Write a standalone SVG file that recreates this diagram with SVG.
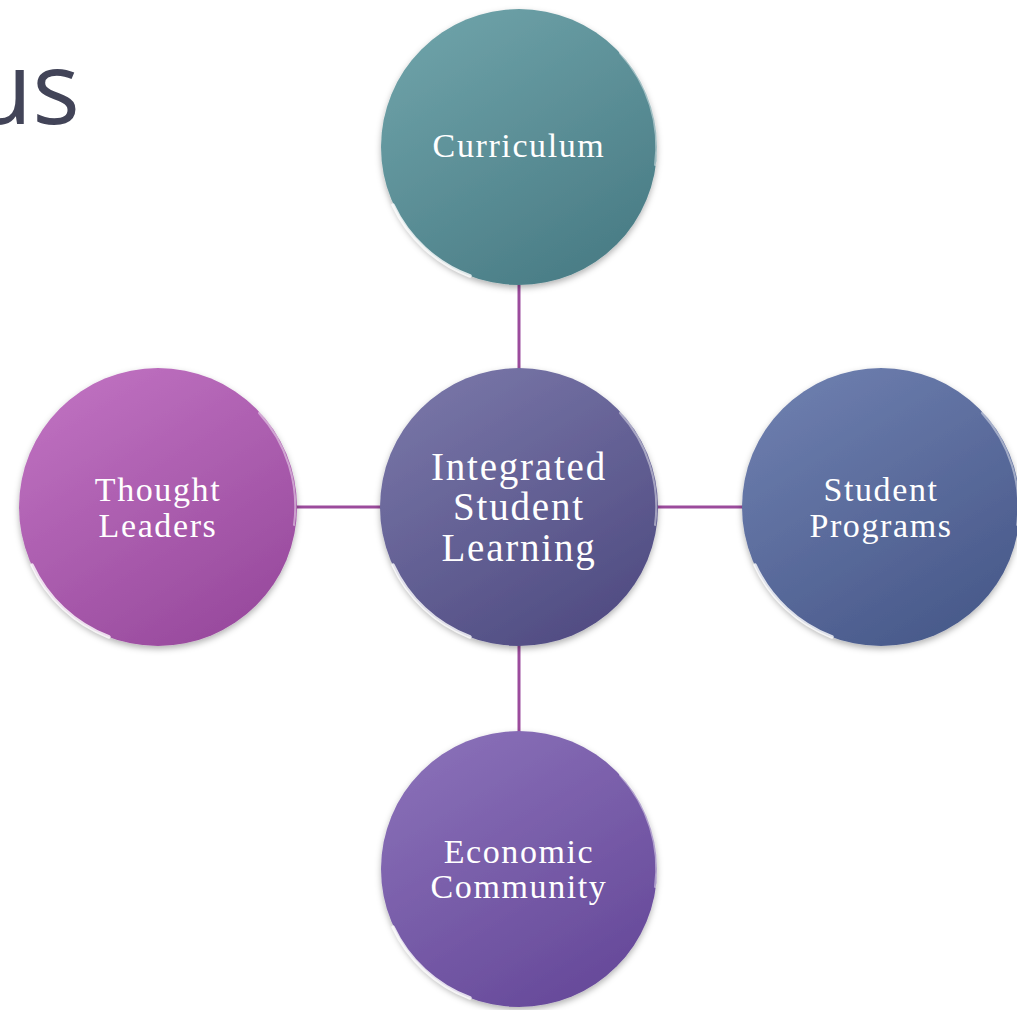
<svg xmlns="http://www.w3.org/2000/svg" width="1017" height="1010" viewBox="0 0 1017 1010">
<style>
.lbl{font-family:"Liberation Serif","DejaVu Serif",serif;fill:#ffffff;text-anchor:middle;font-size:34px;letter-spacing:1.6px}
.big{font-size:39px;letter-spacing:1.8px}
.conn{stroke:#9b4b9c;stroke-width:3;fill:none}
.rim{fill:none;stroke:#ffffff;stroke-opacity:0.8;stroke-width:3.5;stroke-linecap:round}
.rimr{fill:none;stroke:#ffffff;stroke-opacity:0.45;stroke-width:2;stroke-linecap:round}
</style>
<defs>
<linearGradient id="gTeal" x1="0" y1="0" x2="0.6" y2="1"><stop offset="0" stop-color="#72a6ac"/><stop offset="1" stop-color="#4b7e87"/></linearGradient>
<linearGradient id="gCenter" x1="0" y1="0" x2="0.6" y2="1"><stop offset="0" stop-color="#7c7aab"/><stop offset="1" stop-color="#524e84"/></linearGradient>
<linearGradient id="gBlue" x1="0" y1="0" x2="0.6" y2="1"><stop offset="0" stop-color="#7182b2"/><stop offset="1" stop-color="#4a5b8c"/></linearGradient>
<linearGradient id="gMag" x1="0" y1="0" x2="0.6" y2="1"><stop offset="0" stop-color="#c375c4"/><stop offset="1" stop-color="#9a4c9f"/></linearGradient>
<linearGradient id="gViolet" x1="0" y1="0" x2="0.6" y2="1"><stop offset="0" stop-color="#8d74bb"/><stop offset="1" stop-color="#684b9b"/></linearGradient>
<filter id="sh" x="-10%" y="-10%" width="120%" height="125%"><feDropShadow dx="0" dy="3" stdDeviation="3" flood-color="#000" flood-opacity="0.3"/></filter>
</defs>
<text x="80" y="124" font-family="'Open Sans','Noto Sans','Liberation Sans',sans-serif" font-size="100" font-weight="500" fill="#424458" text-anchor="end">us</text>
<g id="connectors">
<line class="conn" x1="519" y1="285" x2="519" y2="370"/>
<line class="conn" x1="519" y1="645" x2="519" y2="733"/>
<line class="conn" x1="295" y1="507" x2="383" y2="507"/>
<line class="conn" x1="655" y1="507" x2="744" y2="507"/>
</g>
<g id="curriculum">
<circle cx="519" cy="147" r="138" fill="url(#gTeal)" filter="url(#sh)"/>
<path class="rim" d="M393 205 A138 138 0 0 0 470 276"/>
<path class="rimr" d="M620 53 A138 138 0 0 1 655 165"/>
<text class="lbl" x="519" y="157">Curriculum</text>
</g>
<g id="center">
<circle cx="519" cy="507" r="139" fill="url(#gCenter)" filter="url(#sh)"/>
<path class="rim" d="M393 565 A139 139 0 0 0 470 637"/>
<path class="rimr" d="M620 413 A139 139 0 0 1 655 525"/>
<text class="lbl big" x="519" y="480">Integrated</text>
<text class="lbl big" x="519" y="520">Student</text>
<text class="lbl big" x="519" y="561">Learning</text>
</g>
<g id="student-programs">
<circle cx="881" cy="507" r="139" fill="url(#gBlue)" filter="url(#sh)"/>
<path class="rim" d="M755 565 A139 139 0 0 0 832 637"/>
<path class="rimr" d="M982 413 A139 139 0 0 1 1017 525"/>
<text class="lbl" x="881" y="501">Student</text>
<text class="lbl" x="881" y="537">Programs</text>
</g>
<g id="thought-leaders">
<circle cx="158" cy="507" r="139" fill="url(#gMag)" filter="url(#sh)"/>
<path class="rim" d="M32 565 A139 139 0 0 0 109 637"/>
<path class="rimr" d="M259 413 A139 139 0 0 1 294 525"/>
<text class="lbl" x="158" y="501">Thought</text>
<text class="lbl" x="158" y="537">Leaders</text>
</g>
<g id="economic-community">
<circle cx="519" cy="869" r="138" fill="url(#gViolet)" filter="url(#sh)"/>
<path class="rim" d="M393 927 A138 138 0 0 0 470 998"/>
<path class="rimr" d="M620 775 A138 138 0 0 1 655 887"/>
<text class="lbl" x="519" y="863">Economic</text>
<text class="lbl" x="519" y="898">Community</text>
</g>
</svg>
